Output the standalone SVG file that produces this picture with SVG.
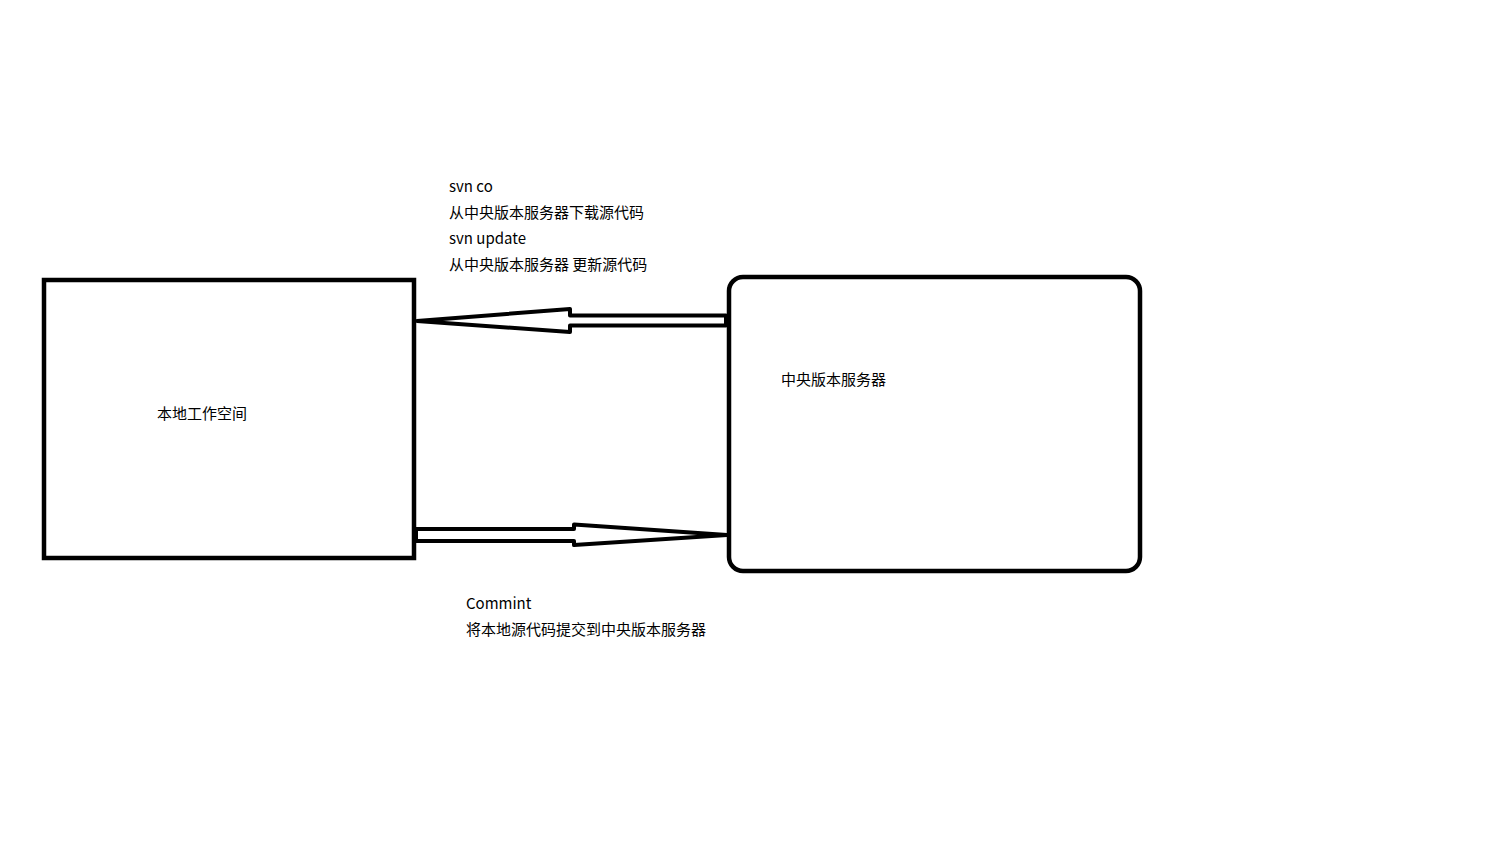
<svg xmlns="http://www.w3.org/2000/svg" width="1500" height="848" viewBox="0 0 1500 848">
<style>
.box{fill:none;stroke:#000;stroke-width:4.5}
.arr{fill:none;stroke:#000;stroke-width:4;stroke-linejoin:round}
text{font-family:"Microsoft YaHei","Noto Sans CJK SC","Noto Sans",sans-serif;font-size:15px;fill:#000}
</style>
<rect width="1500" height="848" fill="#fff"/>
<g id="local">
<rect class="box" x="44" y="280" width="370" height="278"/>
<text x="157" y="419">本地工作空间</text>
</g>
<g id="server">
<rect class="box" x="729" y="277" width="411" height="294" rx="14" ry="14"/>
<text x="781" y="385">中央版本服务器</text>
</g>
<g id="connectors">
<polygon class="arr" points="417,321 570,309 570,315.5 726,315.5 726,325.5 570,325.5 570,332"/>
<polygon class="arr" points="416,529 574,529 574,524.5 727,535 574,545 574,541 416,541"/>
</g>
<g id="labels">
<text x="449" y="192">svn co</text>
<text x="449" y="218">从中央版本服务器下载源代码</text>
<text x="449" y="244">svn update</text>
<text x="449" y="270">从中央版本服务器 更新源代码</text>
<text x="466" y="609">Commint</text>
<text x="466" y="635">将本地源代码提交到中央版本服务器</text>
</g>
</svg>
